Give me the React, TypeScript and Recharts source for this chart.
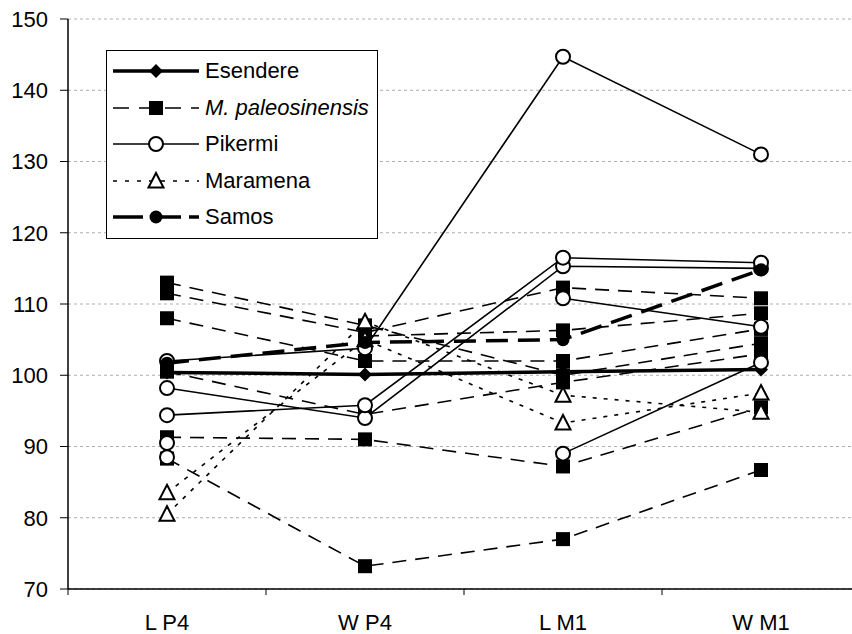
import { LineChart, Line, XAxis, YAxis, CartesianGrid, Legend } from "recharts"

const FONT = '"Liberation Sans", Arial, sans-serif'

const categories = ["L P4", "W P4", "L M1", "W M1"]
const yTicks = [70, 80, 90, 100, 110, 120, 130, 140, 150]

// one inner array per specimen, values in category order (null = not measured)
const esendere = [[100.4, 100.1, 100.5, 100.8]]
const paleosinensis = [
  [113, 107, 100, 104.5],
  [111.5, 106, 112.3, 110.8],
  [108, 102, 102, 106.5],
  [100.5, 94.5, 99, 103],
  [91.3, 91, 87.2, 95.5],
  [88.3, 73.2, 77, 86.7],
  [null, 105.5, 106.3, 108.7],
]
const pikermi = [
  [102, 103.8, 144.7, 131],
  [98.2, 94, 115.3, 115],
  [94.4, 95.8, 116.5, 115.8],
  [90.5, null, null, null],
  [88.5, null, null, null],
  [null, null, 110.8, 106.8],
  [null, null, 89, 101.8],
]
const maramena = [
  [83.5, 105, 93.3, 97.5],
  [80.5, 107.5, 97.2, 94.8],
]
const samos = [[101.7, 104.6, 105, 114.8]]

type Shape = "diamond" | "square" | "circle" | "triangle" | "dot"

interface Group {
  name: string
  key: string
  specimens: (number | null)[][]
  shape: Shape
  width: number
  dash?: string
  legendDash?: string
  italic?: boolean
}

const groups: Group[] = [
  { name: "Esendere", key: "es", specimens: esendere, shape: "diamond", width: 3.5 },
  { name: "M. paleosinensis", key: "mp", specimens: paleosinensis, shape: "square", width: 1.6, dash: "14 9", legendDash: "16 10", italic: true },
  { name: "Pikermi", key: "pk", specimens: pikermi, shape: "circle", width: 1.6 },
  { name: "Maramena", key: "mr", specimens: maramena, shape: "triangle", width: 1.6, dash: "4 7", legendDash: "4 8" },
  { name: "Samos", key: "sa", specimens: samos, shape: "dot", width: 3.5, dash: "22 10", legendDash: "30 8" },
]

const data = categories.map((label, i) => {
  const row: Record<string, number | string | null> = { x: i + 0.5, label }
  groups.forEach((g) => g.specimens.forEach((s, j) => (row[`${g.key}${j}`] = s[i])))
  return row
})

function Marker({ shape, cx, cy }: { shape: Shape; cx: number; cy: number }) {
  switch (shape) {
    case "diamond":
      return <path d={`M${cx},${cy - 7}L${cx + 7},${cy}L${cx},${cy + 7}L${cx - 7},${cy}Z`} fill="#000" />
    case "square":
      return <rect x={cx - 7} y={cy - 7} width={14} height={14} fill="#000" />
    case "circle":
      return <circle cx={cx} cy={cy} r={7} fill="#fff" stroke="#000" strokeWidth={2} />
    case "triangle":
      return (
        <path d={`M${cx},${cy - 8}L${cx + 7.5},${cy + 6.5}L${cx - 7.5},${cy + 6.5}Z`} fill="#fff" stroke="#000" strokeWidth={2} />
      )
    default:
      return <circle cx={cx} cy={cy} r={6.5} fill="#000" />
  }
}

function XTick({ x, y, payload }: any) {
  const v = payload.value
  if (Number.isInteger(v)) {
    return <line x1={x} x2={x} y1={y} y2={y + 6} stroke="#000" strokeWidth={1} />
  }
  return (
    <text x={x} y={y + 25} dy="0.71em" textAnchor="middle" fill="#000" fontSize={22} fontFamily={FONT}>
      {categories[Math.floor(v)]}
    </text>
  )
}

function LegendBox() {
  return (
    <div
      style={{
        border: "1px solid #000",
        background: "#fff",
        padding: "2px 8px 2px 6px",
        fontFamily: FONT,
        fontSize: 22,
        color: "#000",
      }}
    >
      {groups.map((g) => (
        <div key={g.key} style={{ display: "flex", alignItems: "center", height: 36.5 }}>
          <svg width={86} height={24} style={{ marginRight: 6 }}>
            <line x1={0} x2={86} y1={12} y2={12} stroke="#000" strokeWidth={g.width} strokeDasharray={g.legendDash} />
            <Marker shape={g.shape} cx={43} cy={12} />
          </svg>
          <span style={{ fontStyle: g.italic ? "italic" : "normal" }}>{g.name}</span>
        </div>
      ))}
    </div>
  )
}

export default function App() {
  return (
    <div style={{ position: "absolute", left: 0, top: 0, width: 852, height: 634, overflow: "hidden", background: "#fff" }}>
      <LineChart width={862} height={634} data={data} margin={{ top: 19, right: 2, left: 0, bottom: 0 }}>
        <CartesianGrid vertical={false} stroke="#999" strokeDasharray="3 3" strokeWidth={0.8} />
        <XAxis
          type="number"
          dataKey="x"
          domain={[0, 4]}
          ticks={[0, 0.5, 1, 1.5, 2, 2.5, 3, 3.5]}
          interval={0}
          tickLine={false}
          tickSize={0}
          tickMargin={0}
          height={45}
          axisLine={{ stroke: "#000", strokeWidth: 1.5 }}
          tick={<XTick />}
        />
        <YAxis
          domain={[70, 150]}
          ticks={yTicks}
          interval={0}
          width={68}
          tickSize={8}
          tickMargin={12}
          axisLine={{ stroke: "#000", strokeWidth: 1.5 }}
          tickLine={{ stroke: "#000" }}
          tick={{ fill: "#000", fontSize: 22, fontFamily: FONT }}
        />
        {groups.flatMap((g) =>
          g.specimens.map((_, j) => (
            <Line
              key={`${g.key}${j}`}
              dataKey={`${g.key}${j}`}
              stroke="#000"
              strokeWidth={g.width}
              strokeDasharray={g.dash}
              isAnimationActive={false}
              legendType="none"
              dot={(p: any) =>
                p.value == null || p.cy == null ? (
                  <g key={`${g.key}${j}-${p.index}`} />
                ) : (
                  <Marker key={`${g.key}${j}-${p.index}`} shape={g.shape} cx={p.cx} cy={p.cy} />
                )
              }
              activeDot={false}
            />
          ))
        )}
        <Legend
          layout="vertical"
          align="center"
          verticalAlign="middle"
          wrapperStyle={{ left: 106, top: 50, width: "auto" }}
          content={() => <LegendBox />}
        />
      </LineChart>
    </div>
  )
}
